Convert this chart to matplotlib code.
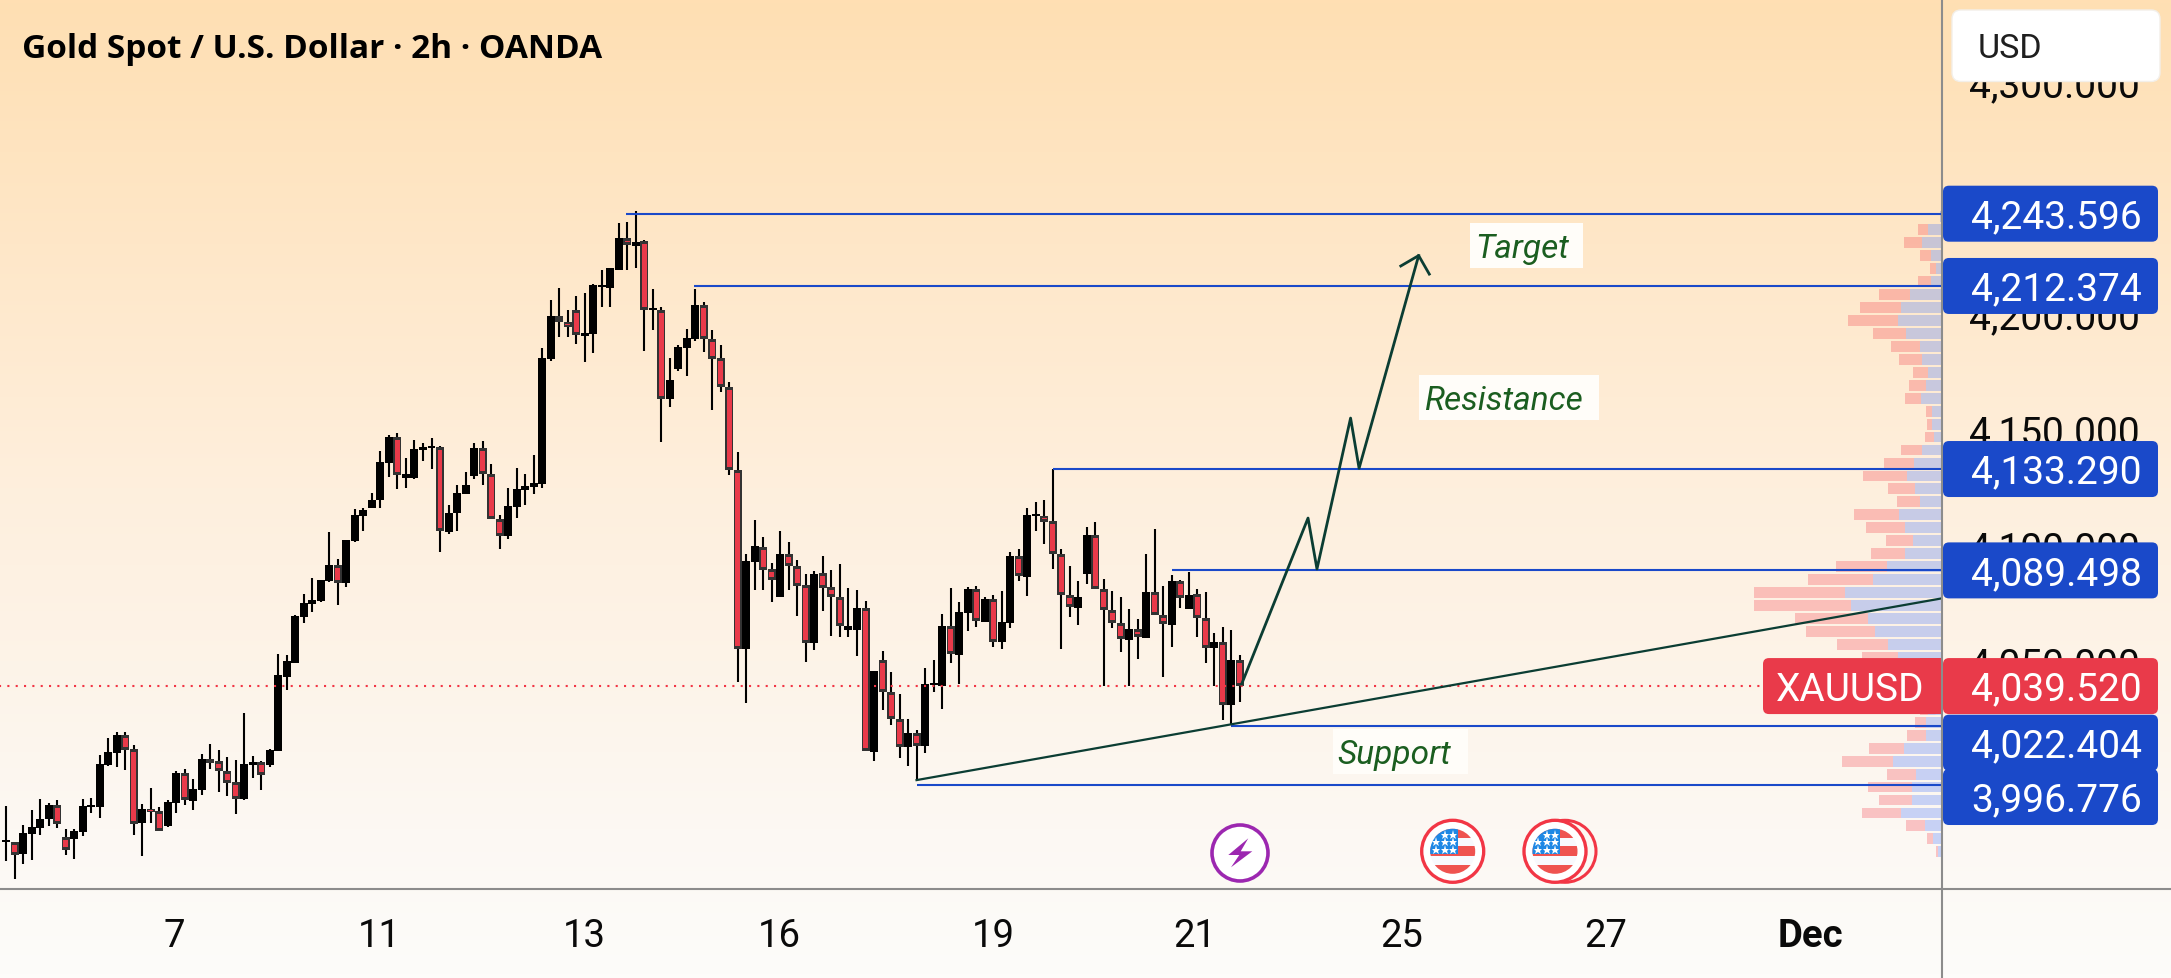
import numpy as np
import matplotlib
matplotlib.use("Agg")
import matplotlib.pyplot as plt
from matplotlib.colors import LinearSegmentedColormap
from matplotlib.patches import Circle, FancyBboxPatch, Polygon, Rectangle
from matplotlib.ticker import FuncFormatter
from matplotlib.transforms import ScaledTranslation

# 2h candles
opens = [
    3972.3, 3972.0, 3967.1, 3975.6, 3978.2, 3982.1, 3988.1, 3974.3, 3973.5, 3976.5,
    3987.4, 3987.3, 4005.4, 4010.6, 4018.4, 4012.3, 3980.4, 3986.4, 3985.5, 3979.1,
    3989.0, 4002.0, 3989.9, 3994.6, 4008.0, 4007.2, 4002.8, 3998.1, 3990.7, 4005.4,
    4006.7, 4005.4, 4011.5, 4043.4, 4049.5, 4069.4, 4075.0, 4076.3, 4084.9, 4091.8,
    4084.1, 4102.2, 4113.0, 4116.5, 4119.9, 4135.9, 4147.1, 4129.4, 4129.4, 4141.5,
    4142.4, 4142.8, 4106.1, 4114.3, 4122.5, 4130.4, 4142.4, 4131.3, 4111.9, 4104.4,
    4116.9, 4124.2, 4125.6, 4127.0, 4180.8, 4199.2, 4197.0, 4202.1, 4190.9, 4191.6,
    4211.8, 4211.5, 4219.2, 4233.0, 4229.6, 4231.6, 4202.0, 4201.8, 4163.5, 4176.5,
    4185.6, 4189.5, 4204.1, 4189.6, 4181.1, 4168.9, 4132.7, 4055.7, 4093.2, 4099.8,
    4089.9, 4078.1, 4096.4, 4091.2, 4083.0, 4058.3, 4088.2, 4082.2, 4078.2, 4063.9,
    4063.7, 4073.3, 4011.0, 4050.8, 4036.8, 4025.2, 4013.2, 4019.1, 4013.6, 4040.0,
    4039.4, 4065.5, 4052.9, 4071.1, 4081.5, 4067.2, 4077.1, 4058.6, 4066.8, 4095.7,
    4086.6, 4113.0, 4113.0, 4110.8, 4096.4, 4078.7, 4073.3, 4087.9, 4104.8, 4081.3,
    4072.2, 4066.6, 4059.4, 4064.0, 4060.3, 4080.0, 4070.1, 4065.9, 4084.8, 4072.8,
    4079.2, 4068.8, 4056.0, 4058.4, 4031.3, 4050.6,
]
highs = [
    3987.6, 3972.0, 3979.5, 3986.0, 3990.7, 3989.0, 3990.3, 3977.8, 3977.8, 3990.7,
    3991.2, 4009.7, 4017.1, 4019.7, 4019.7, 4014.1, 3988.6, 3995.5, 3987.3, 3990.3,
    4002.8, 4003.7, 3999.4, 4010.2, 4014.5, 4011.9, 4008.9, 4007.6, 4027.9, 4009.3,
    4007.2, 4012.3, 4053.4, 4052.9, 4070.2, 4079.3, 4086.2, 4085.3, 4106.1, 4094.4,
    4102.6, 4116.0, 4116.5, 4122.9, 4141.1, 4148.0, 4148.9, 4138.1, 4145.8, 4144.5,
    4146.7, 4143.2, 4117.8, 4126.4, 4132.1, 4144.7, 4145.2, 4135.5, 4113.4, 4125.1,
    4133.8, 4131.1, 4139.3, 4185.6, 4206.3, 4211.5, 4202.1, 4208.0, 4209.4, 4213.2,
    4219.2, 4220.2, 4239.6, 4240.1, 4244.7, 4232.2, 4211.1, 4203.4, 4181.3, 4186.8,
    4193.8, 4211.1, 4205.5, 4193.3, 4186.8, 4171.0, 4140.7, 4096.6, 4111.2, 4104.0,
    4092.7, 4106.5, 4101.8, 4094.0, 4087.9, 4089.2, 4095.7, 4089.6, 4092.3, 4081.7,
    4081.0, 4076.3, 4046.0, 4054.7, 4045.6, 4036.1, 4025.3, 4020.5, 4047.3, 4050.8,
    4070.7, 4081.9, 4075.8, 4082.3, 4082.8, 4078.0, 4078.9, 4080.6, 4097.4, 4098.7,
    4116.5, 4119.0, 4119.9, 4133.3, 4098.7, 4091.4, 4084.9, 4108.2, 4110.4, 4085.8,
    4080.6, 4078.0, 4072.8, 4068.5, 4096.6, 4107.4, 4082.8, 4087.5, 4085.3, 4088.8,
    4081.5, 4080.2, 4062.5, 4065.0, 4063.7, 4052.9,
]
lows = [
    3964.1, 3956.2, 3962.7, 3964.5, 3975.3, 3979.2, 3978.2, 3966.7, 3964.8, 3974.9,
    3984.7, 3982.5, 4005.0, 4004.6, 4003.3, 3975.2, 3966.1, 3980.4, 3976.9, 3978.6,
    3984.7, 3988.1, 3986.0, 3992.5, 4003.7, 3993.8, 3992.0, 3984.3, 3990.3, 3999.8,
    3994.6, 4004.6, 4011.5, 4037.8, 4049.5, 4066.8, 4071.5, 4075.8, 4084.5, 4074.5,
    4082.3, 4101.8, 4106.5, 4116.5, 4116.5, 4129.8, 4124.7, 4125.1, 4129.0, 4136.8,
    4133.3, 4097.4, 4105.2, 4106.5, 4122.5, 4129.0, 4126.4, 4111.9, 4098.9, 4103.2,
    4112.3, 4117.9, 4122.5, 4125.1, 4179.9, 4190.5, 4190.5, 4187.3, 4179.6, 4183.5,
    4203.5, 4203.5, 4219.2, 4219.2, 4220.2, 4184.2, 4193.3, 4145.0, 4160.1, 4175.6,
    4173.4, 4188.5, 4183.9, 4158.8, 4166.6, 4130.7, 4041.3, 4032.2, 4081.0, 4081.0,
    4075.9, 4078.1, 4081.0, 4069.7, 4050.0, 4055.1, 4071.9, 4061.1, 4060.8, 4060.7,
    4052.5, 4011.3, 4007.2, 4029.2, 4022.7, 4008.4, 4005.0, 3998.5, 4010.6, 4037.0,
    4029.6, 4049.5, 4040.4, 4063.3, 4065.0, 4067.2, 4056.4, 4055.5, 4064.6, 4084.9,
    4078.4, 4106.5, 4100.9, 4090.1, 4055.5, 4069.4, 4065.9, 4083.6, 4081.3, 4039.5,
    4064.6, 4054.2, 4039.5, 4051.2, 4060.3, 4070.1, 4043.4, 4056.4, 4073.3, 4072.8,
    4060.7, 4049.5, 4039.5, 4024.9, 4022.7, 4032.6,
]
closes = [
    3973.0, 3966.7, 3976.0, 3978.6, 3982.1, 3988.1, 3979.9, 3968.8, 3976.9, 3987.7,
    3988.1, 4005.9, 4011.0, 4018.4, 4011.9, 3979.9, 3986.4, 3985.3, 3976.9, 3989.4,
    4002.0, 3990.3, 3995.1, 4008.0, 4006.3, 4002.8, 3997.6, 3990.7, 4005.9, 4006.7,
    4001.1, 4011.9, 4044.3, 4050.4, 4069.8, 4075.4, 4076.7, 4085.3, 4091.8, 4084.1,
    4102.6, 4113.4, 4115.6, 4119.9, 4136.3, 4147.1, 4130.9, 4131.1, 4141.9, 4142.8,
    4143.2, 4106.7, 4114.3, 4123.0, 4126.4, 4142.4, 4131.3, 4111.9, 4104.4, 4117.3,
    4124.7, 4125.9, 4127.3, 4181.3, 4199.3, 4197.0, 4194.7, 4191.0, 4192.1, 4212.8,
    4212.8, 4220.2, 4233.1, 4229.9, 4231.3, 4202.1, 4202.9, 4163.7, 4171.7, 4186.1,
    4189.9, 4204.1, 4189.6, 4181.0, 4168.9, 4133.0, 4055.7, 4093.5, 4100.0, 4089.8,
    4085.5, 4096.6, 4091.2, 4082.8, 4058.3, 4087.9, 4082.1, 4078.2, 4065.3, 4065.3,
    4073.3, 4011.3, 4046.0, 4036.8, 4025.2, 4013.3, 4019.2, 4013.8, 4040.4, 4040.8,
    4065.5, 4053.4, 4071.5, 4081.5, 4067.5, 4077.1, 4058.7, 4067.2, 4095.7, 4086.9,
    4113.4, 4113.9, 4110.6, 4096.4, 4078.7, 4073.5, 4078.0, 4104.8, 4081.3, 4072.2,
    4066.6, 4059.7, 4064.2, 4060.7, 4080.2, 4070.1, 4066.2, 4084.9, 4077.4, 4078.9,
    4068.8, 4056.1, 4058.6, 4031.5, 4050.8, 4039.52,
]

# horizontal levels: price and the bar they start from
level_prices = [4243.596, 4212.374, 4133.290, 4089.498, 4022.404, 3996.776]
level_starts = [72.9, 80.8, 123.0, 137.0, 144.0, 107.0]
level_labels = ["4,243.596", "4,212.374", "4,133.290", "4,089.498", "4,022.404", "3,996.776"]
label_nudge = [0, 0, 0, 0, 17, 12]  # px, where the labels push each other apart
last_price = 4039.52

trend_x = [107.0, 227.46]
trend_y = [3998.9, 4077.4]

# projected path and its arrow head
path_x = [145.2, 153.0, 154.05, 158.0, 159.0, 166.0]
path_y = [4040.4, 4112.1, 4090.1, 4155.3, 4133.6, 4225.5]
head_x = [163.9, 166.0, 167.25]
head_y = [4221.0, 4225.5, 4217.5]

# volume profile, right edge of the pane
vp_prices = [
    4242.3, 4236.7, 4231.1, 4225.5, 4219.9, 4214.3, 4208.7, 4203.1, 4197.5, 4191.9,
    4186.3, 4180.7, 4175.1, 4169.5, 4163.9, 4158.3, 4152.7, 4147.1, 4141.5, 4135.9,
    4130.3, 4124.7, 4119.1, 4113.5, 4107.9, 4102.3, 4096.7, 4091.1, 4085.5, 4079.9,
    4074.3, 4068.7, 4063.1, 4057.5, 4051.9, 4046.3, 4040.7, 4035.1, 4029.5, 4023.9,
    4018.3, 4012.7, 4007.1, 4001.5, 3995.9, 3990.3, 3984.7, 3979.1, 3973.5, 3967.9,
]
vp_up = [
    2, 13.7, 20, 11, 6, 11, 32, 41, 44, 36,
    22, 19.3, 13.3, 16, 21, 9.3, 9.3, 8, 19.3, 28,
    35, 27, 22, 43, 37, 29, 37, 55, 69, 97,
    91, 74, 67, 54, 44, 41, 34, 24, 14, 16,
    16, 38, 49, 26, 30, 30, 41, 17, 9, 4,
]
vp_down = [
    0, 10.3, 18, 11, 6, 13, 31, 41, 50, 33,
    29, 23.7, 15.7, 17, 16, 6.7, 5.7, 9, 21.7, 30,
    44, 27, 23, 45, 39, 27, 34, 51, 65, 91,
    97, 73, 69, 51, 36, 33, 27, 17, 8, 11,
    19, 35, 51, 29, 44, 33, 39, 19, 6, 2,
]

date_ticks = [19.8, 43.9, 67.9, 90.9, 116.0, 139.7, 164.0, 188.0, 212.0]
date_labels = ["7", "11", "13", "16", "19", "21", "25", "27", "Dec"]
price_ticks = [4000, 4050, 4100, 4150, 4200, 4250, 4300]

# colours
RED = "#e93a4a"
BLUE = "#1a49c9"
TEAL = "#0b3d33"
GREEN = "#1b5e20"
AXIS = "#8c8c8c"

W, H = 2171, 979
AXIS_X, AXIS_Y = 1941.7, 889.7
PRICE_TOP, PRICE_BOTTOM = 4336.35, 3951.98
BAR_FIRST, BAR_STEP = 6.0, 8.51

plt.rcParams["font.family"] = ["Roboto", "DejaVu Sans"]

fig = plt.figure(figsize=(W / 100, H / 100), dpi=100)

# page background
bg = fig.add_axes([0, 0, 1, 1], zorder=0)
bg.axis("off")
cmap = LinearSegmentedColormap.from_list(
    "peach", [(0.0, "#ffdfb3"), (0.5, "#feefdd"), (0.85, "#fcf8f3"), (1.0, "#fdfcfa")]
)
bg.imshow(np.linspace(0, 1, 256)[:, None], cmap=cmap, aspect="auto", extent=(0, 1, 0, 1))

pane = [0, 1 - AXIS_Y / H, AXIS_X / W, AXIS_Y / H]

# volume profile sits behind the candles, one x unit is one pixel
vp = fig.add_axes(pane, zorder=1)
vp.axis("off")
vp.set_xlim(AXIS_X, 0)
vp.set_ylim(PRICE_BOTTOM, PRICE_TOP)
vp.barh(vp_prices, vp_up, height=4.7, color="#2962ff", alpha=0.25, linewidth=0)
vp.barh(vp_prices, vp_down, left=vp_up, height=4.7, color="#f23645", alpha=0.27, linewidth=0)

ax = fig.add_axes(pane, zorder=2)
ax.patch.set_visible(False)
for s in ax.spines.values():
    s.set_visible(False)
ax.set_xlim(-BAR_FIRST / BAR_STEP, (AXIS_X - BAR_FIRST) / BAR_STEP)
ax.set_ylim(PRICE_BOTTOM, PRICE_TOP)

# candles
bars = np.arange(len(closes))
o = np.array(opens)
c = np.array(closes)
top = np.maximum(o, c)
bot = np.minimum(o, c)
down = c < o

ax.vlines(bars, lows, highs, color="black", lw=1.5, zorder=3)
ax.bar(bars[~down], (top - bot)[~down], bottom=bot[~down], width=0.94, color="black", linewidth=0, zorder=4)
ax.bar(bars[down], (top - bot)[down], bottom=bot[down], width=0.94, color="#333333", linewidth=0, zorder=4)
inner = np.maximum((top - bot)[down] - 2.6, 0.4)
ax.bar(bars[down], inner, bottom=((top + bot)[down] - inner) / 2, width=0.58, color=RED, linewidth=0, zorder=5)

# last price, stops at the symbol tag
ax.plot([-1, (1763 - BAR_FIRST) / BAR_STEP], [last_price, last_price], color="#f23645", lw=1.5,
        linestyle=(0, (1, 3)), zorder=6)

# levels and drawings
for p, start in zip(level_prices, level_starts):
    ax.plot([start, ax.get_xlim()[1]], [p, p], color=BLUE, lw=1.5, solid_capstyle="butt", zorder=6)
ax.plot(trend_x, trend_y, color=TEAL, lw=1.6, zorder=7)
ax.plot(path_x, path_y, color=TEAL, lw=2.0, zorder=7)
ax.plot(head_x, head_y, color=TEAL, lw=2.0, zorder=7)

ax.set_xticks(date_ticks, date_labels)
for t, name in zip(ax.get_xticklabels(), date_labels):
    t.set_fontsize(27.5)
    if name == "Dec":
        t.set_fontweight("bold")
ax.yaxis.tick_right()
ax.set_yticks(price_ticks)
ax.yaxis.set_major_formatter(FuncFormatter(lambda v, _: f"{v:,.3f}"))
ax.tick_params(axis="x", length=0, pad=20.5, colors="#0a0a0a")
ax.tick_params(axis="y", length=0, pad=19.5, labelsize=28, colors="#0a0a0a")
lift = ScaledTranslation(0, 1.2 / 100, fig.dpi_scale_trans)
for t in ax.get_yticklabels():
    t.set_transform(t.get_transform() + lift)

# chrome on top, in pixels
ui = fig.add_axes([0, 0, 1, 1], zorder=3)
ui.axis("off")
ui.set_xlim(0, W)
ui.set_ylim(H, 0)

ui.plot([0, W], [AXIS_Y, AXIS_Y], color=AXIS, lw=1.5)
ui.plot([AXIS_X, AXIS_X], [0, H], color=AXIS, lw=1.5, zorder=2)


def price_y(price):
    return (PRICE_TOP - price) / (PRICE_TOP - PRICE_BOTTOM) * AXIS_Y


def tag(x0, x1, yc, color, zorder=3):
    ui.add_patch(FancyBboxPatch((x0, yc - 28), x1 - x0, 56, boxstyle="round,pad=0,rounding_size=6",
                                fc=color, ec="none", zorder=zorder))


for p, label, nudge in zip(level_prices, level_labels, label_nudge):
    yc = price_y(p) + nudge
    tag(1943, 2158, yc, BLUE)
    ui.text(2142, yc - 1, label, color="white", fontsize=28, ha="right", va="center_baseline", zorder=4)

yc = price_y(last_price)
tag(1943, 2158, yc, RED, zorder=5)
tag(1763, 1941, yc, RED, zorder=5)
ui.add_patch(Rectangle((1920, yc - 28), 21, 56, fc=RED, ec="none", zorder=5))
ui.text(2142, yc - 1, f"{last_price:,.3f}", color="white", fontsize=28, ha="right", va="center_baseline", zorder=6)
ui.text(1776, yc - 1, "XAUUSD", color="white", fontsize=28, ha="left", va="center_baseline", zorder=6)

# currency button
ui.add_patch(FancyBboxPatch((1952, 11), 208, 71.5, boxstyle="round,pad=0,rounding_size=9",
                            fc="white", ec="#f3efe9", lw=1, zorder=3))
ui.text(1978, 46, "USD", color="#1f1f1f", fontsize=24.5, ha="left", va="center_baseline", zorder=4)

ui.text(22, 46, "Gold Spot / U.S. Dollar · 2h · OANDA", color="black", fontsize=24, fontweight="bold",
        family=["Open Sans", "DejaVu Sans"], ha="left", va="center_baseline")

# text notes
for x0, x1, y0, y1, tx, note in [
    (1470, 1582.7, 224, 269, 1475, "Target"),
    (1419, 1599, 376, 420.7, 1424, "Resistance"),
    (1332.7, 1467.7, 730, 774.7, 1337.5, "Support"),
]:
    ui.add_patch(Rectangle((x0, y0), x1 - x0, y1 - y0, fc="#fffdf9", ec="none"))
    ui.text(tx, (y0 + y1) / 2 - 1, note, color=GREEN, fontsize=24, fontstyle="italic", ha="left",
            va="center_baseline")


# event markers above the time scale
def flag(cx, cy, stacked=False):
    if stacked:
        ui.add_patch(Circle((cx + 10, cy), 31, fc="none", ec="#f23645", lw=2.2, zorder=3))
    ui.add_patch(Circle((cx, cy), 31, fc="white", ec="#f23645", lw=2.4, zorder=4))
    clip = Circle((cx, cy), 22.5, transform=ui.transData)
    stripes = [(-23, -13.3, "#ef5350"), (-13.3, -5, "#f8f9fd"), (-5, 5, "#ef5350"),
               (5, 13.7, "#f8f9fd"), (13.7, 23, "#ef5350")]
    for y0, y1, col in stripes:
        r = Rectangle((cx - 23, cy + y0), 46, y1 - y0, fc=col, ec="none", zorder=5)
        ui.add_patch(r)
        r.set_clip_path(clip)
    r = Rectangle((cx - 23, cy - 23), 28, 26, fc="#1e88e5", ec="none", zorder=6)
    ui.add_patch(r)
    r.set_clip_path(clip)
    for dx, dy in [(-8, -16), (0, -16), (-17, -9), (-8, -9), (0, -9), (-17, -1), (-8, -1), (0, -1)]:
        ui.plot(cx + dx, cy + dy, marker="*", ms=6.5, color="white", mew=0, zorder=7)


ui.add_patch(Circle((1240, 854), 28, fc="white", ec="#9c27b0", lw=2.6, zorder=4))
bolt = np.array([(8.3, -14.7), (-11.7, 2), (-0.7, 2), (-9, 14.3), (12.3, -1.7), (0.7, -1.7)])
ui.add_patch(Polygon(bolt + (1240, 854), closed=True, fc="#9c27b0", ec="none", zorder=5))
flag(1452.7, 852.3)
flag(1555, 852.3, stacked=True)

fig.savefig("out.png", dpi=100)
